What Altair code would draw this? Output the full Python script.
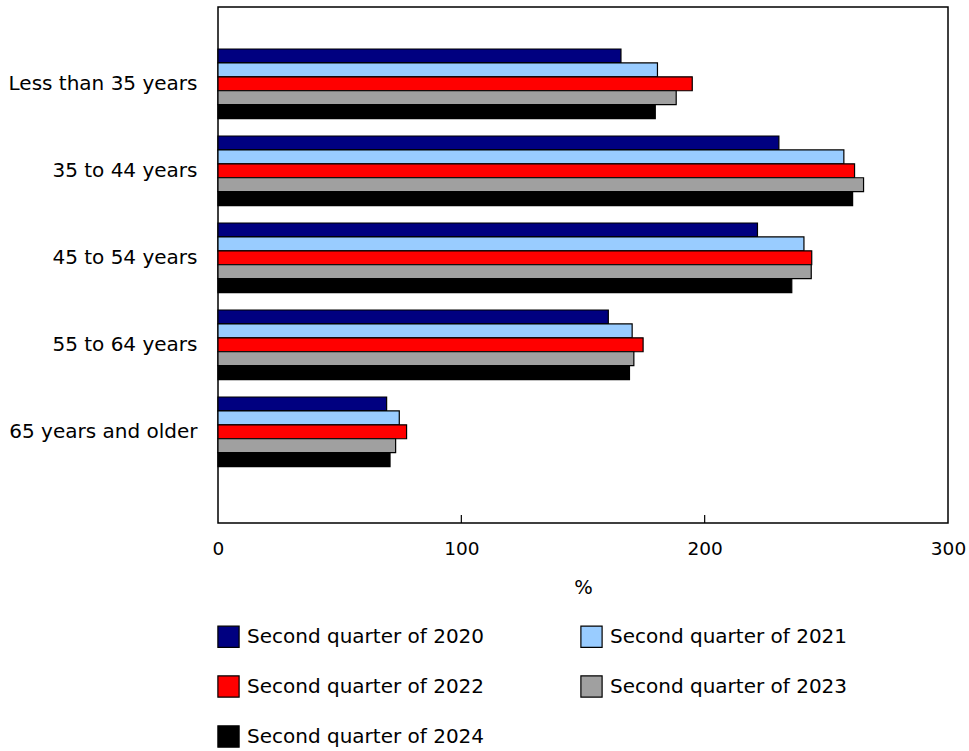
import altair as alt
import pandas as pd

# Age groups, top to bottom
age_groups = [
    "Less than 35 years",
    "35 to 44 years",
    "45 to 54 years",
    "55 to 64 years",
    "65 years and older",
]

# Reference periods, one bar each per age group
quarters = [
    "Second quarter of 2020",
    "Second quarter of 2021",
    "Second quarter of 2022",
    "Second quarter of 2023",
    "Second quarter of 2024",
]

# Values (%) per period, in the order of age_groups
q2_2020 = [165.6, 230.5, 221.7, 160.4, 69.3]
q2_2021 = [180.6, 257.2, 240.8, 170.2, 74.5]
q2_2022 = [194.9, 261.6, 244.0, 174.7, 77.5]
q2_2023 = [188.3, 265.3, 243.8, 170.9, 73.0]
q2_2024 = [179.7, 260.8, 235.8, 169.1, 70.7]

colors = ["#000080", "#99CCFF", "#FF0000", "#A0A0A0", "#000000"]
x_ticks = [0, 100, 200, 300]

series = [q2_2020, q2_2021, q2_2022, q2_2023, q2_2024]
rows = []
for q, vals in zip(quarters, series):
    for age, v in zip(age_groups, vals):
        rows.append({"age": age, "quarter": q, "value": v})
df = pd.DataFrame(rows)

W, H = 730, 516
FONT = "DejaVu Sans"

bars = (
    alt.Chart(df)
    .mark_bar(stroke="black", strokeWidth=1.2, strokeOpacity=1)
    .encode(
        x=alt.X(
            "value:Q",
            scale=alt.Scale(domain=[0, 300], nice=False),
            axis=alt.Axis(
                values=x_ticks,
                ticks=False,
                tickSize=0,
                grid=False,
                domain=False,
                labelFontSize=18.5,
                labelPadding=16,
                labelColor="black",
                title="%",
                titleFontSize=19.5,
                titleFontWeight="normal",
                titleColor="black",
                titlePadding=21,
                labelFlush=False,
            ),
        ),
        y=alt.Y(
            "age:N",
            sort=age_groups,
            scale=alt.Scale(range=[33.3, 468.3], paddingInner=0.2, paddingOuter=0.1),
            axis=alt.Axis(
                title=None,
                ticks=False,
                domain=False,
                labelFontSize=20,
                labelPadding=21,
                labelColor="black",
                labelLimit=400,
            ),
        ),
        yOffset=alt.YOffset("quarter:N", sort=quarters),
        fill=alt.Fill(
            "quarter:N",
            sort=quarters,
            scale=alt.Scale(domain=quarters, range=colors),
            legend=alt.Legend(
                title=None,
                orient="none",
                legendX=-1,
                legendY=618,
                columns=2,
                direction="horizontal",
                symbolType="square",
                symbolSize=450,
                symbolStrokeColor="black",
                symbolStrokeWidth=1.2,
                symbolOpacity=1,
                labelFontSize=20,
                labelColor="black",
                labelOffset=7,
                labelLimit=400,
                rowPadding=23,
                columnPadding=93,
                padding=0,
            ),
        ),
    )
)

# Inward tick marks on the bottom axis
tick_df = pd.DataFrame({"t": x_ticks[1:-1]})
ticks = (
    alt.Chart(tick_df)
    .mark_rule(color="black", strokeWidth=1.2)
    .encode(x="t:Q", y=alt.value(H - 8), y2=alt.value(H))
)

chart = (
    alt.layer(bars, ticks)
    .properties(
        width=W,
        height=H,
        autosize=alt.AutoSizeParams(type="none"),
        padding={"left": 218, "top": 7, "right": 21, "bottom": 228},
        background="white",
    )
    .configure(font=FONT)
    .configure_view(stroke="black", strokeWidth=1.5)
)

chart.save("out.html", embed_options={"renderer": "svg", "actions": False})
